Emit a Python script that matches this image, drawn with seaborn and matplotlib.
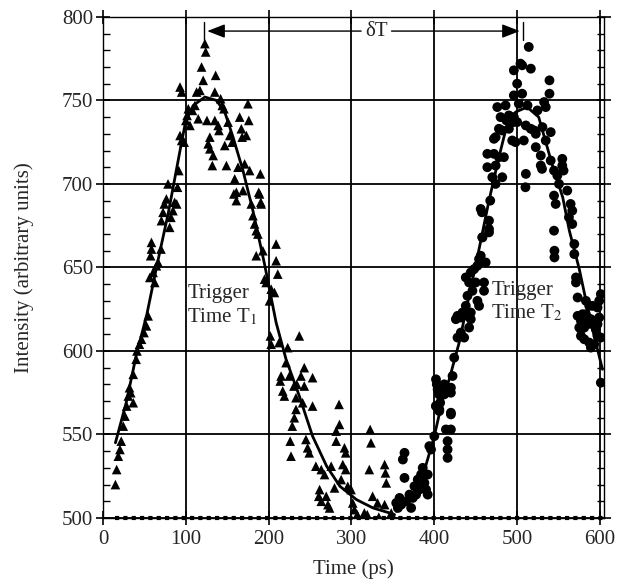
import matplotlib
matplotlib.use("Agg")
import matplotlib.pyplot as plt
import seaborn as sns
import pandas as pd

# ---------------- data ----------------
tri_x = [15,16.5,18.5,20.5,22,24.5,26.5,28.5,30.5,32,33.5,36.5,36.5,40,41,44,46.5,49.5,52.5,54.5,
         56.5,60.5,62.5,64.5,66.5,57.5,58.5,58.5,70,70.5,72.5,74,76.5,78.5,80.5,82,84.5,86.5,89,90,
         91.5,93,95,98,93,95,100,101.5,103,105,108,111,115,113,117,119,121,123,124,125.5,135,136,135,
         139,140,129,127,129,133,132,142,144,146,147,149,151,153,156,159,161,161,163,165,167,168,173,
         175,176,171,169,177,179,181,183,185,188,191,190,193,209,209,158,189,190.5,187,185,
         211,195,197,203,207,201,202,203,212.5,223,237,221,215,214,225,243,239,253,217,219,230.5,234,
         243,233,241,253,233,231,228.5,285,226,227,245,247,249,285.5,281.5,281.5,291.5,293,257,263.5,
         267.5,275.5,289.5,293,287.5,295.5,299.5,261.5,260.5,263.5,269.5,271.5,273.5,279.5,301.5,303.5,
         307.5,322.5,323.5,321.5,340,341,342,325.5,331.5,340,315.5,317,348,349,333,307,319]
tri_y = [520,529,537,541,546,555,561,567,573,578,575,569,586,595,600,604,607,611,615,621,
         644,647,641,651,653,657,661,665,661,678,683,688,691,700,674,680,684,689,688,698,
         708,729,726,725,758,755,738,741,745,735,744,747,739,755,756,770,762,784,779,738,738,765,755,
         735,732,728,724,721,717,711,751,747,745,723,711,737,729,725,703,695,690,710,740,733,728,729,
         748,738,712,696,708,688,681,676,657,695,688,706,660,664,654,694,694,689,670,672,
         646,643,641,637,635,630,609,604,605,602,609,593,585,582,585,590,585,584,576,573,579,580,
         579,572,569,567,565,560,555,568,546,537,547,542,539,556,552,546,542,539,531,529,
         526,531,532,529,523,519,517,517,513,510,513,508,506,518,509,505,
         501,553,545,529,532,527,521,513,509,508,503,500.5,503,500.5,500.5,502,502]

cir_x = [354,356,358,360,362,364,364,366,370,372,374,376,378,380,382,384,386,388,390,392,392,394,396,
         400,416,416,416,414,420,420,406,402,407,406,408,412,420,403,412,402,404,410,406,412,420,402,
         406,420,422,424,428,432,436,426,428,432,434,438,440,444,442,444,438,440,446,452,454,450,442,
         438,444,448,452,460,460,462,456,454,458,466,
         545,545,569,569,571,571,573,583,587,591,601,599,597,573,577,579,583,585,589,575,577,581,585,
         591,595,597,599,577,581,587,589,593,597,601,601,
         514,504,506,496,516.5,500,496,506,539,539,476,486,502,512.5,532.5,534.5,524.5,480,490,496,495,
         487,500,510.5,478,482,490,516.5,520.5,522.5,530.5,540.5,472,474,494,498,508,534.5,522.5,464,
         472,478,484,528.5,540.5,464,474,528.5,530,554.5,554.5,556,470,482,474,510.5,510,544.5,548.5,
         550.5,544.5,546.5,560.5,564.5,566.5,562.5,566.5,544.5,456,457.5,466,466,458,467.5]
cir_y = [509,506,512,508,535,539,524,510,514,506,512,519,514,523,517,526,530,521,517,514,526,543,541,
         549,546,541,536,553,553,563,565,567,569,574,579,577,575,580,580,583,577,579,574,574,578,567,
         564,562,585,596,608,611,608,619,621,620,623,624,621,619,614,623,627,633,636,630,627,641,641,
         644,647,649,651,636,641,653,657,655,668,673,
         660,656,664,658,644,641,632,630,627,627,634,630,626,621,618,622,622,620,619,614,613,614,616,
         616,613,616,620,609,607,605,602,604,609,608,581,
         782,772,771,768,769,760,753,754,762,754,746,747,748,747,749,746,744,740,741,740,737,
         738,737,735,733,732,733,733,732,730,734,731,727,728,726,725,726,726,722,718,
         718,716,716,717,714,710,711,711,709,715,711,708,704,704,700,706,698,708,705,
         700,693,688,696,688,684,680,676,672,685,683,678,671,668,690]

fit1_x = [15,28,40,53,65,79,93,100,109,123,137,147,157,169,181,195,201,209,221,237,253,270,286,306,326,346,352]
fit1_y = [545,569,597,622,651,683,720,738,747,752,750,743,728,708,684,652,637,617,595,573,549,531,519,511,506,503,502]

fit2_x = [354,370,386,400,410,418,430,442,454,466,478,486,498,512,526,534,542,555,563,575,587,595,603]
fit2_y = [504,510,525,549,571,583,605,633,661,690,716,732,743,746,740,726,712,692,672,649,621,605,589]

baseline_x = [15, 605]
baseline_y = [500, 500]

t1_peak, t2_peak = 122.5, 506.5
x_ticks = [0, 100, 200, 300, 400, 500, 600]
y_ticks = [500, 550, 600, 650, 700, 750, 800]

# ---------------- style ----------------
sns.set_theme(style="white")
plt.rcParams['font.family'] = ['Liberation Serif', 'DejaVu Serif']
plt.rcParams['mathtext.fontset'] = 'stix'

FS = 15
fig = plt.figure(figsize=(6.28, 5.82), dpi=100)
ax = fig.add_axes([0.164, 0.110, 0.798, 0.861])

tri = pd.DataFrame({"t": tri_x, "I": tri_y})
cir = pd.DataFrame({"t": cir_x, "I": cir_y})
f1 = pd.DataFrame({"t": fit1_x, "I": fit1_y})
f2 = pd.DataFrame({"t": fit2_x, "I": fit2_y})

ax.plot(baseline_x, baseline_y, color='black', lw=3, ls=(0, (1, 1)), zorder=3, clip_on=False)

sns.scatterplot(data=tri, x="t", y="I", marker='^', s=48, color='black',
                edgecolor='none', ax=ax, zorder=4)
sns.scatterplot(data=cir, x="t", y="I", marker='o', s=50, color='black',
                edgecolor='none', ax=ax, zorder=4)
sns.lineplot(data=f1, x="t", y="I", sort=False, estimator=None, color='black', lw=2, ax=ax, zorder=5)
sns.lineplot(data=f2, x="t", y="I", sort=False, estimator=None, color='black', lw=2, ax=ax, zorder=5)

ax.set_xlim(0, 605)
ax.set_ylim(500, 800)
ax.set_xticks(x_ticks)
ax.set_yticks(y_ticks)
ax.set_yticks(range(500, 801, 10), minor=True)
ax.grid(True, which='major', color='black', lw=1.3)
ax.set_axisbelow(True)
for sp in ax.spines.values():
    sp.set_color('black')
    sp.set_linewidth(1.0)
ax.tick_params(axis='x', which='major', direction='inout', length=10, width=1.2,
               top=True, bottom=True, labelsize=FS, color='black', pad=4)
ax.tick_params(axis='y', which='major', direction='inout', length=10, width=1.2,
               left=True, right=True, labelsize=FS, color='black', pad=2)
ax.tick_params(axis='y', which='minor', direction='in', length=5, width=1,
               left=True, right=True, color='black')
ax.set_xlabel("Time (ps)", fontsize=FS, labelpad=7)
ax.set_ylabel("Intensity (arbitrary units)", fontsize=FS, labelpad=20)

# delta T annotation
arr_y = 791.5
ax.annotate('', xy=(t1_peak, arr_y), xytext=(315, arr_y),
            arrowprops=dict(arrowstyle='-|>,head_length=0.9,head_width=0.35', color='black', lw=1))
ax.annotate('', xy=(t2_peak, arr_y), xytext=(345, arr_y),
            arrowprops=dict(arrowstyle='-|>,head_length=0.9,head_width=0.35', color='black', lw=1))
ax.text(330, arr_y, "δT", ha='center', va='center', fontsize=FS)
ax.plot([t1_peak, t1_peak], [786, 797], color='black', lw=1)
ax.plot([t2_peak, t2_peak], [786, 797], color='black', lw=1)

ax.text(102, 640, "Trigger\nTime T$_1$", ha='left', va='top', fontsize=FS, linespacing=1.2)
ax.text(469, 642, "Trigger\nTime T$_2$", ha='left', va='top', fontsize=FS, linespacing=1.2)

fig.savefig("out.png", dpi=100)
